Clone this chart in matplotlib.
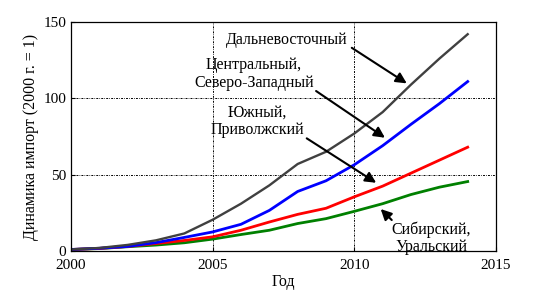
import matplotlib
matplotlib.use("Agg")
import matplotlib.pyplot as plt

plt.rcParams['font.family'] = ['Liberation Serif', 'DejaVu Serif']

years = list(range(2000, 2015))
far_east = [1, 2, 4, 7, 11.5, 20.5, 31, 43, 57, 65, 77, 91, 109, 126, 142]
central_nw = [1, 1.8, 3, 5.5, 8.9, 12.5, 17.5, 26.6, 39, 46, 56.5, 69, 83, 96.5, 111]
south_volga = [1, 1.7, 3, 4.9, 6.9, 9.3, 13.6, 19, 24, 28, 35.5, 42.5, 51, 59.5, 68]
siberia_ural = [1, 1.6, 2.8, 3.9, 5.4, 7.8, 10.8, 13.6, 18, 21.2, 26, 31, 37, 41.8, 45.5]

fig = plt.figure(figsize=(5.49, 2.93), dpi=100)
ax = fig.add_axes([0.1293, 0.1433, 0.7742, 0.7816])

ax.plot(years, siberia_ural, color='#008000', lw=2.0)
ax.plot(years, south_volga, color='#ff0000', lw=2.0)
ax.plot(years, central_nw, color='#0000ff', lw=2.0)
ax.plot(years, far_east, color='#404040', lw=1.7)

ax.set_xlim(2000, 2015)
ax.set_ylim(0, 150)
ax.set_xticks([2000, 2005, 2010, 2015])
ax.set_yticks([0, 50, 100, 150])
ax.tick_params(direction='in', labelsize=11, length=3, width=0.8)
ax.tick_params(axis='x', pad=5.5)
ax.tick_params(axis='y', pad=3.5)
for s in ax.spines.values():
    s.set_linewidth(0.9)

for x in [2005, 2010]:
    ax.axvline(x, color='k', lw=0.7, ls=(0, (2, 1.2, 0.7, 1.2)), zorder=0)
for y in [50, 100]:
    ax.axhline(y, color='k', lw=0.7, ls=(0, (2, 1.2, 0.7, 1.2)), zorder=0)

ax.set_xlabel('Год', fontsize=11.5, labelpad=2)
ax.set_ylabel('Динамика импорт (2000 г. = 1)', fontsize=11.5, labelpad=3)

ap = dict(arrowstyle='-|>', lw=1.5, color='k', mutation_scale=16, shrinkA=0, shrinkB=0)
fs = 11.5

ax.text(2007.6, 138.2, 'Дальневосточный', ha='center', va='center', fontsize=fs)
ax.annotate('', xy=(2011.85, 109.8), xytext=(2009.91, 133.1), arrowprops=ap)

ax.text(2006.46, 115.9, 'Центральный,\nСеверо-Западный', ha='center', va='center',
        fontsize=fs, linespacing=1.15)
ax.annotate('', xy=(2011.08, 74.2), xytext=(2008.65, 104.8), arrowprops=ap)

ax.text(2006.58, 85.1, 'Южный,\nПриволжский', ha='center', va='center',
        fontsize=fs, linespacing=1.15)
ax.annotate('', xy=(2010.77, 44.7), xytext=(2008.32, 73.8), arrowprops=ap)

ax.text(2012.71, 8.5, 'Сибирский,\nУральский', ha='center', va='center',
        fontsize=fs, linespacing=1.1, zorder=1)
ax.annotate('', xy=(2010.93, 27.5), xytext=(2011.32, 20.3), arrowprops=ap)

fig.savefig('out.png', dpi=100)
